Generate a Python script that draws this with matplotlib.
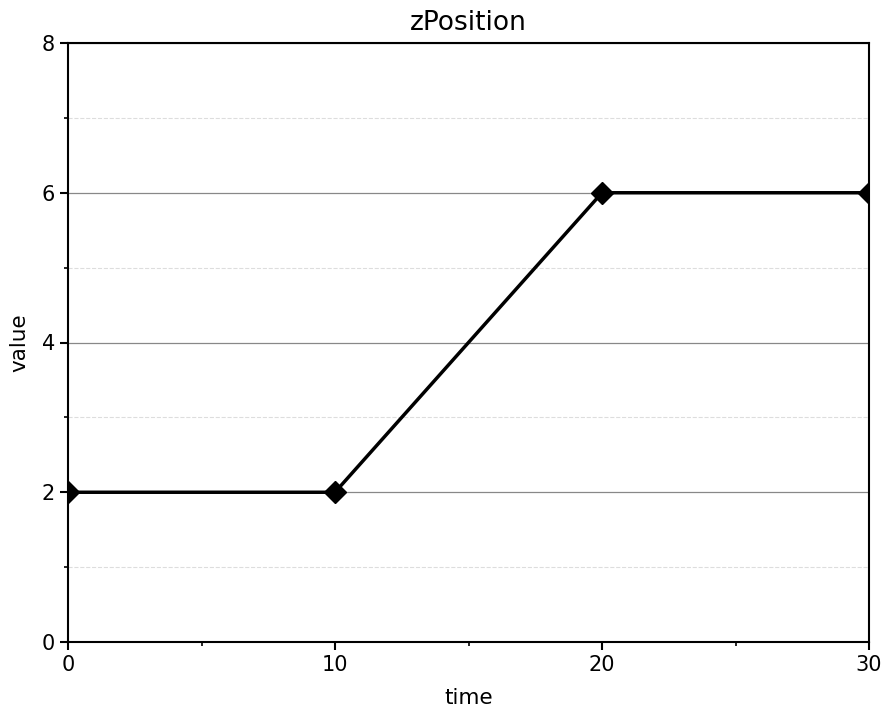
import matplotlib
matplotlib.use('Agg')
import matplotlib.pyplot as plt
from matplotlib.ticker import MultipleLocator

# data
time_vals = [0, 10, 20, 30]
z_vals = [2, 2, 6, 6]

x_ticks = [0, 10, 20, 30]
y_ticks = [0, 2, 4, 6, 8]


def main():
    fig = plt.figure(figsize=(8.85, 7.10), dpi=100)
    ax = fig.add_axes([68 / 885, 1 - 642 / 710, (869 - 68) / 885, (642 - 43) / 710])

    ax.plot(time_vals, z_vals, color='black', linewidth=2.5, marker='D',
            markersize=11, zorder=5)

    ax.set_xlim(0, 30)
    ax.set_ylim(0, 8)
    ax.set_xticks(x_ticks)
    ax.set_yticks(y_ticks)
    ax.xaxis.set_minor_locator(MultipleLocator(5))
    ax.yaxis.set_minor_locator(MultipleLocator(1))

    ax.grid(which='major', axis='y', color='#888888', linewidth=0.9, linestyle='-')
    ax.grid(which='minor', axis='y', color='#dddddd', linewidth=0.8, linestyle='--')

    for spine in ax.spines.values():
        spine.set_linewidth(1.5)
    ax.tick_params(which='major', length=6, width=1.5, labelsize=15)
    ax.tick_params(which='minor', length=3, width=1.2)

    ax.set_title('zPosition', fontsize=19, pad=9)
    ax.set_xlabel('time', fontsize=15.5, labelpad=9)
    ax.set_ylabel('value', fontsize=15.5, labelpad=9)

    fig.savefig('out.png', dpi=100)


if __name__ == '__main__':
    main()
